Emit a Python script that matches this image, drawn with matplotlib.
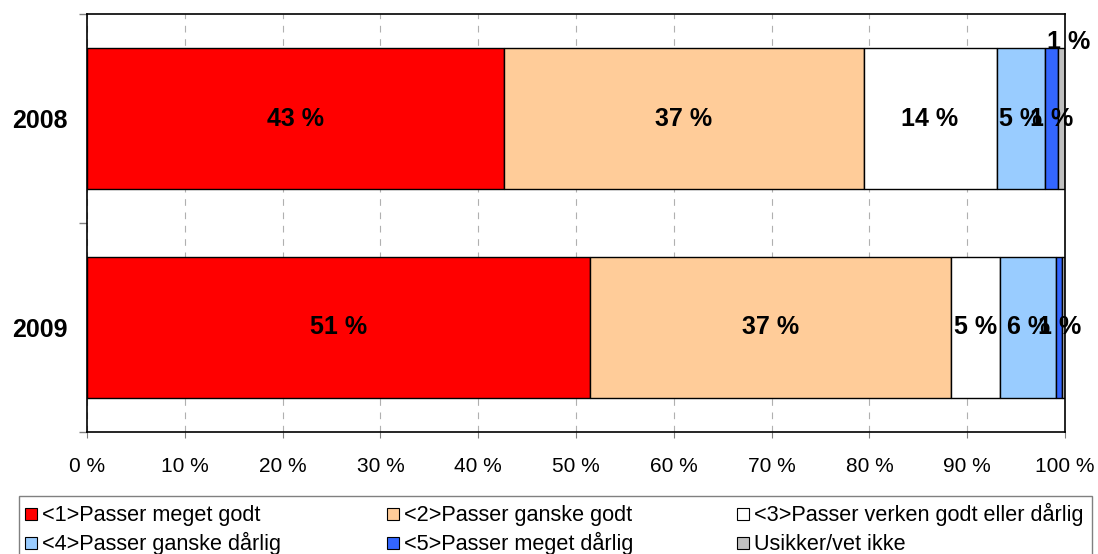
import matplotlib
matplotlib.use("Agg")
import matplotlib.pyplot as plt
import matplotlib.patches as patches
import numpy as np

plt.rcParams['font.family'] = ['Liberation Sans', 'DejaVu Sans']

years = ['2008', '2009']
categories = ['<1>Passer meget godt', '<2>Passer ganske godt',
              '<3>Passer verken godt eller dårlig', '<4>Passer ganske dårlig',
              '<5>Passer meget dårlig', 'Usikker/vet ikke']
colors = ['#FF0000', '#FFCC99', '#FFFFFF', '#99CCFF', '#3366FF', '#C0C0C0']

# andel i prosent per kategori, rekkefølge som categories
share_2008 = [42.6, 36.8, 13.6, 5.0, 1.3, 0.7]
share_2009 = [51.4, 36.9, 5.1, 5.7, 0.6, 0.3]

values = np.array([share_2008, share_2009])
ypos = [1, 0]

fig = plt.figure(figsize=(10.98, 5.54), dpi=100)
ax = fig.add_axes([87 / 1098, 122 / 554, 978 / 1098, 418 / 554])

left = np.zeros(len(years))
for j, cat in enumerate(categories):
    w = values[:, j]
    ax.barh(ypos, w, left=left, height=0.67, color=colors[j],
            edgecolor='black', linewidth=1.0, zorder=3)
    for i in range(len(years)):
        txt = f"{w[i]:.0f} %"
        if w[i] < 0.5 or txt == "0 %":
            continue
        x = left[i] + w[i] / 2
        y = ypos[i]
        dx = 0
        if j == len(categories) - 1:
            # liten verdi: etikett over stolpen
            y = ypos[i] + 0.365
            dx = 5
        ax.annotate(txt, (x, y), xytext=(dx, 0), textcoords='offset points',
                    ha='center', va='center', fontsize=18,
                    fontweight='bold', zorder=5)
    left += w

ax.set_xlim(0, 100)
ax.set_ylim(-0.5, 1.5)
ax.set_xticks(np.arange(0, 101, 10))
ax.set_xticklabels([f"{v} %" for v in range(0, 101, 10)], fontsize=15)
ax.set_yticks([-0.5, 0.5, 1.5])
ax.set_yticklabels([])
ax.set_yticks(ypos, minor=True)
ax.set_yticklabels(years, minor=True, fontsize=18, fontweight='bold')
ax.tick_params(axis='y', which='major', length=6, color='#808080', width=1)
ax.tick_params(axis='y', which='minor', length=0, pad=14)
ax.tick_params(axis='x', length=4, color='#808080', pad=14)
ax.xaxis.grid(True, linestyle=(0, (6, 6)), color='#B0B0B0', linewidth=0.8, zorder=0)
ax.set_axisbelow(True)
for s in ax.spines.values():
    s.set_linewidth(1.2)
    s.set_zorder(4)

# legende
fw, fh = 1098, 554
box = patches.Rectangle((19 / fw, -0.02), 1073 / fw, (554 - 496) / fh + 0.02,
                        transform=fig.transFigure, fill=False,
                        edgecolor='#808080', linewidth=1)
fig.patches.append(box)
col_x = [25, 387, 737]
row_base = [521, 550]
for k, cat in enumerate(categories):
    cx = col_x[k % 3]
    by = row_base[k // 3]
    sq = patches.Rectangle((cx / fw, (fh - by + 1) / fh), 12 / fw, 12 / fh,
                           transform=fig.transFigure, facecolor=colors[k],
                           edgecolor='black', linewidth=0.8)
    fig.patches.append(sq)
    fig.text((cx + 17) / fw, (fh - by) / fh, cat, ha='left', va='baseline',
             fontsize=15.6)

fig.savefig('out.png', dpi=100)
